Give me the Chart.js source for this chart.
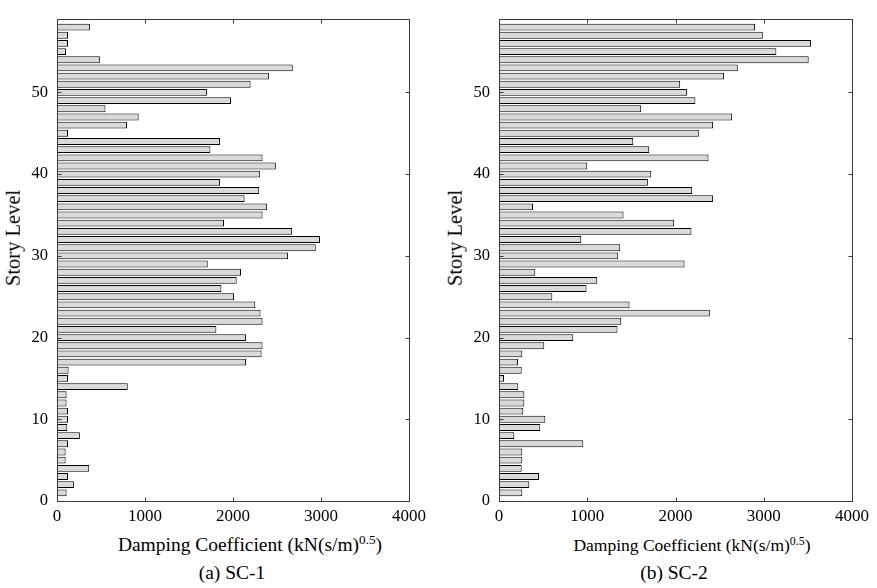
<!DOCTYPE html>
<html>
<head>
<meta charset="utf-8">
<script src="https://cdn.jsdelivr.net/npm/chart.js@4/dist/chart.umd.min.js"></script>
<style>
  html, body { margin: 0; padding: 0; background: #fff; }
  #wrap { position: relative; width: 877px; height: 588px; overflow: hidden; font-family: "Liberation Serif", "Times New Roman", serif; color: #000; }
  canvas { position: absolute; top: 0; }
  .lbl { position: absolute; white-space: nowrap; transform: translate(-50%, -50%); line-height: 1; }
  .lbl sup { font-size: 0.68em; vertical-align: 0.55em; line-height: 0; }
  .rot { transform: translate(-50%, -50%) rotate(-90deg); }
</style>
</head>
<body>
<div id="wrap">
  <canvas id="c1" width="440" height="530" style="left:0px"></canvas>
  <canvas id="c2" width="437" height="530" style="left:440px"></canvas>

  <div class="lbl rot" style="left:13px; top:238px; font-size:20.5px;">Story Level</div>
  <div class="lbl rot" style="left:455px; top:238px; font-size:20.5px;">Story Level</div>

  <div class="lbl" style="left:250px; top:545px; font-size:19.5px;">Damping Coefficient (kN(s/m)<sup>0.5</sup>)</div>
  <div class="lbl" style="left:692px; top:546px; font-size:17.5px;">Damping Coefficient (kN(s/m)<sup>0.5</sup>)</div>

  <div class="lbl" style="left:232px; top:573px; font-size:19.5px;">(a) SC-1</div>
  <div class="lbl" style="left:674px; top:573px; font-size:19.5px;">(b) SC-2</div>
</div>

<script>
// Story levels 1..58
const stories = Array.from({ length: 58 }, (_, i) => i + 1);

// Damping coefficient per story, kN(s/m)^0.5, listed from story 1 upward
const sc1Values = [
  109, 192, 125, 366, 98, 98, 125, 260, 117, 125,
  125, 109, 109, 804, 125, 132, 2147, 2325, 2336, 2147,
  1811, 2336, 2313, 2253, 2011, 1868, 2042, 2091, 1713, 2626,
  2940, 2989, 2672, 1898, 2336, 2385, 2132, 2298, 1853, 2309,
  2487, 2336, 1743, 1853, 125, 796, 928, 551, 1977, 1706,
  2200, 2408, 2679, 487, 102, 125, 125, 374
];

const sc2Values = [
  264, 343, 453, 257, 264, 264, 955, 174, 468, 525,
  275, 287, 287, 219, 57, 257, 215, 264, 513, 842,
  1343, 1385, 2389, 1479, 604, 992, 1113, 411, 2102, 1351,
  1374, 932, 2181, 1985, 1411, 385, 2426, 2189, 1687, 1725,
  1000, 2374, 1702, 1521, 2264, 2426, 2642, 1611, 2226, 2132,
  2053, 2551, 2706, 3509, 3143, 3536, 2989, 2902
];

// Axis tick values
const xTicks = [0, 1000, 2000, 3000, 4000];
const yTicks = [0, 10, 20, 30, 40, 50];

// Box frame with inward tick marks on all four sides
const framePlugin = {
  id: 'frame',
  afterDraw(chart) {
    const { ctx, chartArea: a, scales: { x, y } } = chart;
    const L = Math.round(a.left) + 0.5, R = Math.round(a.right) + 0.5;
    const T = Math.round(a.top) + 0.5, B = Math.round(a.bottom) + 0.5;
    const len = 4;
    ctx.save();
    ctx.strokeStyle = '#3a3a3a';
    ctx.lineWidth = 1;
    ctx.strokeRect(L, T, R - L, B - T);
    ctx.beginPath();
    xTicks.slice(1, -1).forEach(v => {
      const px = Math.round(x.getPixelForValue(v)) + 0.5;
      ctx.moveTo(px, B); ctx.lineTo(px, B - len);
      ctx.moveTo(px, T); ctx.lineTo(px, T + len);
    });
    yTicks.slice(1).forEach(v => {
      const py = Math.round(y.getPixelForValue(v)) + 0.5;
      ctx.moveTo(L, py); ctx.lineTo(L + len, py);
      ctx.moveTo(R, py); ctx.lineTo(R - len, py);
    });
    ctx.stroke();
    ctx.restore();
  }
};

function makeChart(id, values, rightPad) {
  const font = { family: '"Liberation Serif", "Times New Roman", serif' };
  return new Chart(document.getElementById(id), {
    type: 'bar',
    data: {
      datasets: [{
        data: stories.map((s, i) => ({ x: values[i], y: s })),
        backgroundColor: '#d9d9d9',
        borderColor: '#000',
        borderWidth: 1,
        borderSkipped: false,
        categoryPercentage: 1,
        barPercentage: 0.84
      }]
    },
    options: {
      indexAxis: 'y',
      responsive: false,
      animation: false,
      devicePixelRatio: 1,
      layout: { padding: { top: 8, right: rightPad, left: 0, bottom: 0 } },
      plugins: { legend: { display: false }, tooltip: { enabled: false } },
      scales: {
        x: {
          type: 'linear',
          min: 0, max: 4000,
          grid: { display: false, drawTicks: false },
          border: { display: false },
          afterBuildTicks: s => { s.ticks = xTicks.map(v => ({ value: v })); },
          afterFit: s => { s.height = 29; },
          ticks: {
            padding: 5,
            color: '#000',
            font: { ...font, size: 17 },
            maxRotation: 0,
            callback: v => String(v)
          }
        },
        y: {
          type: 'linear',
          offset: false,
          min: 0, max: 59,
          grid: { display: false, drawTicks: false, offset: false },
          border: { display: false },
          afterBuildTicks: s => { s.ticks = yTicks.map(v => ({ value: v })); },
          afterFit: s => { s.width = id === 'c1' ? 57 : 59; },
          ticks: {
            padding: 9,
            color: '#000',
            font: { ...font, size: 16.5 },
            callback: v => String(v)
          }
        }
      }
    },
    plugins: [framePlugin]
  });
}

makeChart('c1', sc1Values, 31);
makeChart('c2', sc2Values, 25);
</script>
</body>
</html>
